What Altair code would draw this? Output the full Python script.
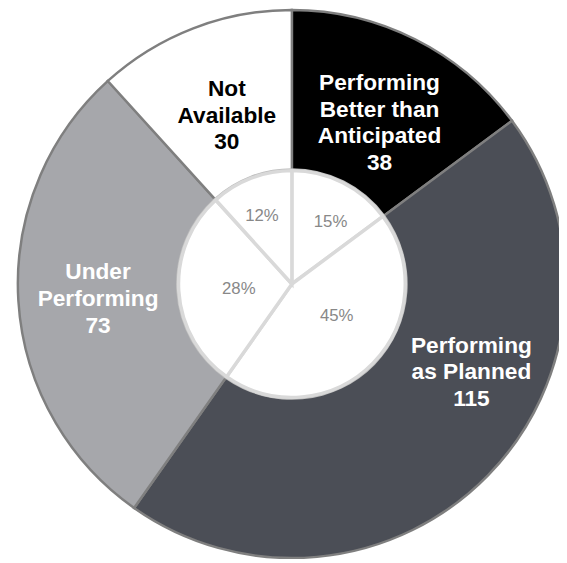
import altair as alt
import pandas as pd

# ---- data ----
categories = ["Performing Better than Anticipated", "Performing as Planned",
              "Under Performing", "Not Available"]
counts = [38, 115, 73, 30]
name_lines = [["Performing", "Better than", "Anticipated"],
              ["Performing", "as Planned"],
              ["Under", "Performing"],
              ["Not", "Available"]]
pct_labels = ["15%", "45%", "28%", "12%"]

# ---- styles ----
fill_colors = ["#000000", "#4b4e56", "#a6a7ab", "#ffffff"]
text_colors = ["#ffffff", "#ffffff", "#ffffff", "#000000"]
label_offsets = [(-1, -25), (39, -77), (3, -24), (6, -11)]      # dx, dy nudges
pct_offsets = [(10, -5), (-1, -13), (11, 1), (-7, -8)]
FONT = "Liberation Sans"

df = pd.DataFrame({
    "category": categories,
    "count": counts,
    "order": list(range(len(categories))),
    "label": ["\n".join(n + [str(c)]) for n, c in zip(name_lines, counts)],
    "pct": pct_labels,
})

base = alt.Chart(df).transform_joinaggregate(
    total="sum(count)"
).transform_window(
    cum="sum(count)", sort=[alt.SortField("order")], frame=[None, 0]
).transform_calculate(
    a0="2*PI*(datum.cum - datum.count)/datum.total",
    a1="2*PI*datum.cum/datum.total",
    am="2*PI*(datum.cum - datum.count/2)/datum.total",
)

outer = base.mark_arc(outerRadius=278, innerRadius=0, stroke="#7f7f7f",
                      strokeWidth=2.5).encode(
    theta=alt.Theta("a0:Q", scale=None),
    theta2="a1:Q",
    color=alt.Color("category:N", scale=alt.Scale(domain=categories, range=fill_colors),
                    legend=None),
)

ring = base.mark_arc(outerRadius=117.5, innerRadius=114, fill="#bdbdbd").encode(
    theta=alt.Theta("a0:Q", scale=None),
    theta2="a1:Q",
)

inner = base.mark_arc(outerRadius=115, innerRadius=0, fill="#ffffff",
                      stroke="#d9d9d9", strokeWidth=3.5).encode(
    theta=alt.Theta("a0:Q", scale=None),
    theta2="a1:Q",
)

layers = [outer, ring, inner]

for cat, tc, (dx, dy) in zip(categories, text_colors, label_offsets):
    layers.append(
        base.transform_filter(alt.datum.category == cat).mark_text(
            radius=200, dx=dx, dy=dy, font=FONT, fontSize=23, fontWeight="bold",
            color=tc, align="center", baseline="middle", lineBreak="\n", lineHeight=27,
        ).encode(theta=alt.Theta("am:Q", scale=None), text="label:N")
    )

for cat, (dx, dy) in zip(categories, pct_offsets):
    layers.append(
        base.transform_filter(alt.datum.category == cat).mark_text(
            radius=65, dx=dx, dy=dy, font=FONT, fontSize=17, color="#888888",
            align="center", baseline="middle",
        ).encode(theta=alt.Theta("am:Q", scale=None), text="pct:N")
    )

chart = alt.layer(*layers).properties(
    width=542, height=550,
    autosize="none",
    padding={"left": 17, "top": 1, "right": 0, "bottom": 0},
).configure_view(stroke=None)

chart.save("out.html", embed_options={"renderer": "svg", "actions": False})
